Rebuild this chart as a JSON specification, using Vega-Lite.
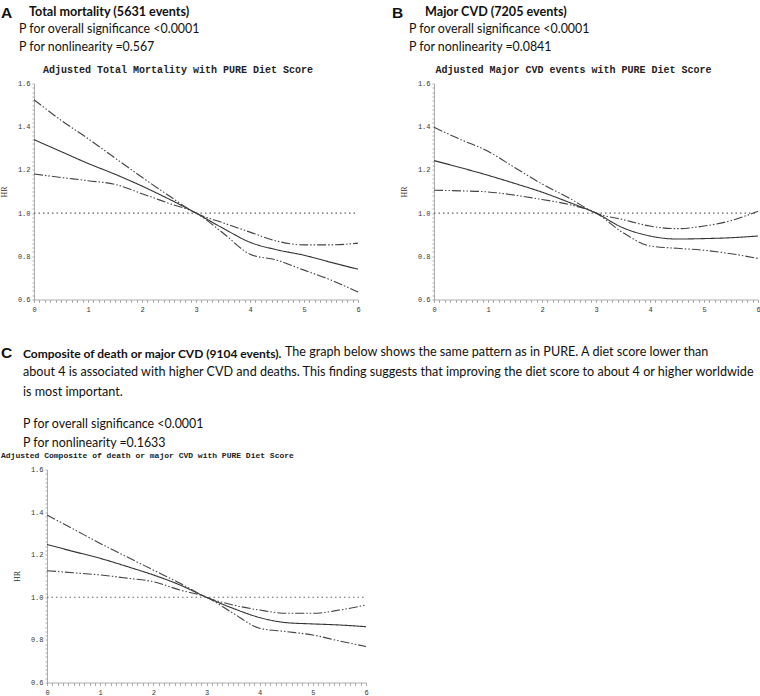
{
  "$schema": "https://vega.github.io/schema/vega-lite/v6.json",
  "padding": {"left": 0, "top": 5.5, "right": 0, "bottom": 0},
  "background": "white",
  "config": {"view": {"stroke": null}, "font": "Lato"},
  "datasets": {
    "A": [
      {"x": 0, "series": "ref", "hr": 1.0}, {"x": 6, "series": "ref", "hr": 1.0},
      {"x": 0, "series": "est", "hr": 1.34}, {"x": 0.5, "series": "est", "hr": 1.285}, {"x": 1, "series": "est", "hr": 1.23}, {"x": 1.5, "series": "est", "hr": 1.18}, {"x": 2, "series": "est", "hr": 1.125}, {"x": 2.5, "series": "est", "hr": 1.065}, {"x": 3, "series": "est", "hr": 1.0}, {"x": 3.5, "series": "est", "hr": 0.93}, {"x": 4, "series": "est", "hr": 0.865}, {"x": 4.5, "series": "est", "hr": 0.83}, {"x": 5, "series": "est", "hr": 0.805}, {"x": 5.5, "series": "est", "hr": 0.772}, {"x": 6, "series": "est", "hr": 0.74},
      {"x": 0, "series": "upper", "hr": 1.525}, {"x": 0.5, "series": "upper", "hr": 1.43}, {"x": 1, "series": "upper", "hr": 1.345}, {"x": 1.5, "series": "upper", "hr": 1.255}, {"x": 2, "series": "upper", "hr": 1.166}, {"x": 2.5, "series": "upper", "hr": 1.08}, {"x": 3, "series": "upper", "hr": 1.0}, {"x": 3.5, "series": "upper", "hr": 0.955}, {"x": 4, "series": "upper", "hr": 0.912}, {"x": 4.5, "series": "upper", "hr": 0.87}, {"x": 5, "series": "upper", "hr": 0.853}, {"x": 5.5, "series": "upper", "hr": 0.853}, {"x": 6, "series": "upper", "hr": 0.861},
      {"x": 0, "series": "lower", "hr": 1.181}, {"x": 0.5, "series": "lower", "hr": 1.165}, {"x": 1, "series": "lower", "hr": 1.15}, {"x": 1.5, "series": "lower", "hr": 1.133}, {"x": 2, "series": "lower", "hr": 1.09}, {"x": 2.5, "series": "lower", "hr": 1.045}, {"x": 3, "series": "lower", "hr": 1.0}, {"x": 3.5, "series": "lower", "hr": 0.908}, {"x": 4, "series": "lower", "hr": 0.81}, {"x": 4.5, "series": "lower", "hr": 0.782}, {"x": 5, "series": "lower", "hr": 0.736}, {"x": 5.5, "series": "lower", "hr": 0.69}, {"x": 6, "series": "lower", "hr": 0.634}
    ],
    "B": [
      {"x": 0, "series": "ref", "hr": 1.0}, {"x": 6, "series": "ref", "hr": 1.0},
      {"x": 0, "series": "est", "hr": 1.243}, {"x": 0.5, "series": "est", "hr": 1.21}, {"x": 1, "series": "est", "hr": 1.175}, {"x": 1.5, "series": "est", "hr": 1.137}, {"x": 2, "series": "est", "hr": 1.097}, {"x": 2.5, "series": "est", "hr": 1.05}, {"x": 3, "series": "est", "hr": 1.0}, {"x": 3.5, "series": "est", "hr": 0.932}, {"x": 4, "series": "est", "hr": 0.894}, {"x": 4.5, "series": "est", "hr": 0.88}, {"x": 5, "series": "est", "hr": 0.882}, {"x": 5.5, "series": "est", "hr": 0.886}, {"x": 6, "series": "est", "hr": 0.894},
      {"x": 0, "series": "upper", "hr": 1.397}, {"x": 0.5, "series": "upper", "hr": 1.34}, {"x": 1, "series": "upper", "hr": 1.286}, {"x": 1.5, "series": "upper", "hr": 1.21}, {"x": 2, "series": "upper", "hr": 1.135}, {"x": 2.5, "series": "upper", "hr": 1.07}, {"x": 3, "series": "upper", "hr": 1.0}, {"x": 3.5, "series": "upper", "hr": 0.97}, {"x": 4, "series": "upper", "hr": 0.94}, {"x": 4.5, "series": "upper", "hr": 0.928}, {"x": 5, "series": "upper", "hr": 0.94}, {"x": 5.5, "series": "upper", "hr": 0.965}, {"x": 6, "series": "upper", "hr": 1.009},
      {"x": 0, "series": "lower", "hr": 1.106}, {"x": 0.5, "series": "lower", "hr": 1.103}, {"x": 1, "series": "lower", "hr": 1.098}, {"x": 1.5, "series": "lower", "hr": 1.083}, {"x": 2, "series": "lower", "hr": 1.063}, {"x": 2.5, "series": "lower", "hr": 1.04}, {"x": 3, "series": "lower", "hr": 1.0}, {"x": 3.5, "series": "lower", "hr": 0.909}, {"x": 4, "series": "lower", "hr": 0.848}, {"x": 4.5, "series": "lower", "hr": 0.837}, {"x": 5, "series": "lower", "hr": 0.828}, {"x": 5.5, "series": "lower", "hr": 0.812}, {"x": 6, "series": "lower", "hr": 0.79}
    ],
    "C": [
      {"x": 0, "series": "ref", "hr": 1.0}, {"x": 6, "series": "ref", "hr": 1.0},
      {"x": 0, "series": "est", "hr": 1.248}, {"x": 0.5, "series": "est", "hr": 1.215}, {"x": 1, "series": "est", "hr": 1.183}, {"x": 1.5, "series": "est", "hr": 1.145}, {"x": 2, "series": "est", "hr": 1.105}, {"x": 2.5, "series": "est", "hr": 1.058}, {"x": 3, "series": "est", "hr": 1.0}, {"x": 3.5, "series": "est", "hr": 0.948}, {"x": 4, "series": "est", "hr": 0.905}, {"x": 4.5, "series": "est", "hr": 0.881}, {"x": 5, "series": "est", "hr": 0.875}, {"x": 5.5, "series": "est", "hr": 0.87}, {"x": 6, "series": "est", "hr": 0.862},
      {"x": 0, "series": "upper", "hr": 1.386}, {"x": 0.5, "series": "upper", "hr": 1.32}, {"x": 1, "series": "upper", "hr": 1.253}, {"x": 1.5, "series": "upper", "hr": 1.19}, {"x": 2, "series": "upper", "hr": 1.128}, {"x": 2.5, "series": "upper", "hr": 1.066}, {"x": 3, "series": "upper", "hr": 1.0}, {"x": 3.5, "series": "upper", "hr": 0.964}, {"x": 4, "series": "upper", "hr": 0.94}, {"x": 4.5, "series": "upper", "hr": 0.925}, {"x": 5, "series": "upper", "hr": 0.925}, {"x": 5.5, "series": "upper", "hr": 0.94}, {"x": 6, "series": "upper", "hr": 0.964},
      {"x": 0, "series": "lower", "hr": 1.125}, {"x": 0.5, "series": "lower", "hr": 1.115}, {"x": 1, "series": "lower", "hr": 1.105}, {"x": 1.5, "series": "lower", "hr": 1.09}, {"x": 2, "series": "lower", "hr": 1.073}, {"x": 2.5, "series": "lower", "hr": 1.034}, {"x": 3, "series": "lower", "hr": 1.0}, {"x": 3.5, "series": "lower", "hr": 0.925}, {"x": 4, "series": "lower", "hr": 0.855}, {"x": 4.5, "series": "lower", "hr": 0.839}, {"x": 5, "series": "lower", "hr": 0.823}, {"x": 5.5, "series": "lower", "hr": 0.795}, {"x": 6, "series": "lower", "hr": 0.769}
    ]
  },
  "spacing": 33,
  "vconcat": [
    {
      "spacing": 30,
      "hconcat": [
        {
          "title": {"text": "A", "anchor": "start", "dx": 0.5, "dy": 16, "font": "Liberation Sans", "fontSize": 15.5, "fontWeight": "bold", "color": "#111", "offset": 0},
          "vconcat": [{
            "title": {"text": "Total mortality (5631 events)", "anchor": "start", "dx": 28.6, "font": "Lato", "fontSize": 12.6, "fontWeight": "bold", "color": "#111", "offset": 5},
            "vconcat": [{
              "title": {"text": ["P for overall significance <0.0001", "P for nonlinearity =0.567"], "anchor": "start", "dx": 18.6, "font": "Lato", "fontSize": 12.4, "fontWeight": "normal", "lineHeight": 18, "offset": 11, "color": "#111"},
              "vconcat": [{
                "width": 324, "height": 216,
                "title": {"text": "Adjusted Total Mortality with PURE Diet Score", "font": "Liberation Mono", "fontSize": 10, "fontWeight": "bold", "color": "#222", "anchor": "middle", "dx": -18, "offset": 5},
                "data": {"name": "A"},
                "mark": {"type": "line", "interpolate": "monotone", "strokeWidth": 1.1},
                "encoding": {
                  "x": {"field": "x", "type": "quantitative", "scale": {"domain": [0, 6], "nice": false, "zero": false},
                    "axis": {"title": null, "values": [0,0.1,0.2,0.3,0.4,0.5,0.6,0.7,0.8,0.9,1,1.1,1.2,1.3,1.4,1.5,1.6,1.7,1.8,1.9,2,2.1,2.2,2.3,2.4,2.5,2.6,2.7,2.8,2.9,3,3.1,3.2,3.3,3.4,3.5,3.6,3.7,3.8,3.9,4,4.1,4.2,4.3,4.4,4.5,4.6,4.7,4.8,4.9,5,5.1,5.2,5.3,5.4,5.5,5.6,5.7,5.8,5.9,6],
                      "labelExpr": "abs(datum.value - round(datum.value)) < 0.001 ? format(datum.value, 'd') : ''",
                      "labelFont": "Liberation Mono", "labelFontSize": 7, "labelColor": "#333", "labelPadding": 3, "labelFlush": false, "labelOverlap": false,
                      "tickSize": 3, "tickColor": "#888", "tickWidth": 0.7, "domainColor": "#999", "domainWidth": 0.8, "grid": false}},
                  "y": {"field": "hr", "type": "quantitative", "scale": {"domain": [0.6, 1.6], "nice": false, "zero": false},
                    "axis": {"title": "HR", "values": [0.6,0.62,0.64,0.66,0.68,0.7,0.72,0.74,0.76,0.78,0.8,0.82,0.84,0.86,0.88,0.9,0.92,0.94,0.96,0.98,1,1.02,1.04,1.06,1.08,1.1,1.12,1.14,1.16,1.18,1.2,1.22,1.24,1.26,1.28,1.3,1.32,1.34,1.36,1.38,1.4,1.42,1.44,1.46,1.48,1.5,1.52,1.54,1.56,1.58,1.6],
                      "labelExpr": "abs(datum.value * 5 - round(datum.value * 5)) < 0.001 ? format(datum.value, '.1f') : ''",
                      "labelFont": "Liberation Mono", "labelFontSize": 7, "labelColor": "#333", "labelPadding": 2, "labelOverlap": false, "labelFlush": false,
                      "tickSize": 2, "tickColor": "#888", "tickWidth": 0.7, "domainColor": "#999", "domainWidth": 0.8, "grid": false,
                      "titleFont": "Liberation Serif", "titleFontSize": 8, "titleFontWeight": "normal", "titleColor": "#333", "titlePadding": 9}},
                  "strokeDash": {"field": "series", "type": "nominal", "scale": {"domain": ["ref", "est", "upper", "lower"], "range": [[1.5, 3], [1, 0], [9, 2, 1.5, 2, 1.5, 2], [9, 2, 1.5, 2, 1.5, 2]]}, "legend": null},
                  "color": {"field": "series", "type": "nominal", "scale": {"domain": ["ref", "est", "upper", "lower"], "range": ["#666", "#333", "#444", "#444"]}, "legend": null}
                }
              }]
            }]
          }]
        },
        {
          "title": {"text": "B", "anchor": "start", "dx": -8.4, "dy": 16, "font": "Liberation Sans", "fontSize": 15.5, "fontWeight": "bold", "color": "#111", "offset": 0},
          "vconcat": [{
            "title": {"text": "Major CVD (7205 events)", "anchor": "start", "dx": 24.6, "font": "Lato", "fontSize": 12.6, "fontWeight": "bold", "color": "#111", "offset": 5},
            "vconcat": [{
              "title": {"text": ["P for overall significance <0.0001", "P for nonlinearity =0.0841"], "anchor": "start", "dx": 8.6, "font": "Lato", "fontSize": 12.4, "fontWeight": "normal", "lineHeight": 18, "offset": 11, "color": "#111"},
              "vconcat": [{
                "width": 324, "height": 216,
                "title": {"text": "Adjusted Major CVD events with PURE Diet Score", "font": "Liberation Mono", "fontSize": 10, "fontWeight": "bold", "color": "#222", "anchor": "middle", "dx": -22.5, "offset": 5},
                "data": {"name": "B"},
                "mark": {"type": "line", "interpolate": "monotone", "strokeWidth": 1.1},
                "encoding": {
                  "x": {"field": "x", "type": "quantitative", "scale": {"domain": [0, 6], "nice": false, "zero": false},
                    "axis": {"title": null, "values": [0,0.1,0.2,0.3,0.4,0.5,0.6,0.7,0.8,0.9,1,1.1,1.2,1.3,1.4,1.5,1.6,1.7,1.8,1.9,2,2.1,2.2,2.3,2.4,2.5,2.6,2.7,2.8,2.9,3,3.1,3.2,3.3,3.4,3.5,3.6,3.7,3.8,3.9,4,4.1,4.2,4.3,4.4,4.5,4.6,4.7,4.8,4.9,5,5.1,5.2,5.3,5.4,5.5,5.6,5.7,5.8,5.9,6],
                      "labelExpr": "abs(datum.value - round(datum.value)) < 0.001 ? format(datum.value, 'd') : ''",
                      "labelFont": "Liberation Mono", "labelFontSize": 7, "labelColor": "#333", "labelPadding": 3, "labelFlush": false, "labelOverlap": false,
                      "tickSize": 3, "tickColor": "#888", "tickWidth": 0.7, "domainColor": "#999", "domainWidth": 0.8, "grid": false}},
                  "y": {"field": "hr", "type": "quantitative", "scale": {"domain": [0.6, 1.6], "nice": false, "zero": false},
                    "axis": {"title": "HR", "values": [0.6,0.62,0.64,0.66,0.68,0.7,0.72,0.74,0.76,0.78,0.8,0.82,0.84,0.86,0.88,0.9,0.92,0.94,0.96,0.98,1,1.02,1.04,1.06,1.08,1.1,1.12,1.14,1.16,1.18,1.2,1.22,1.24,1.26,1.28,1.3,1.32,1.34,1.36,1.38,1.4,1.42,1.44,1.46,1.48,1.5,1.52,1.54,1.56,1.58,1.6],
                      "labelExpr": "abs(datum.value * 5 - round(datum.value * 5)) < 0.001 ? format(datum.value, '.1f') : ''",
                      "labelFont": "Liberation Mono", "labelFontSize": 7, "labelColor": "#333", "labelPadding": 2, "labelOverlap": false, "labelFlush": false,
                      "tickSize": 2, "tickColor": "#888", "tickWidth": 0.7, "domainColor": "#999", "domainWidth": 0.8, "grid": false,
                      "titleFont": "Liberation Serif", "titleFontSize": 8, "titleFontWeight": "normal", "titleColor": "#333", "titlePadding": 9}},
                  "strokeDash": {"field": "series", "type": "nominal", "scale": {"domain": ["ref", "est", "upper", "lower"], "range": [[1.5, 3], [1, 0], [9, 2, 1.5, 2, 1.5, 2], [9, 2, 1.5, 2, 1.5, 2]]}, "legend": null},
                  "color": {"field": "series", "type": "nominal", "scale": {"domain": ["ref", "est", "upper", "lower"], "range": ["#666", "#333", "#444", "#444"]}, "legend": null}
                }
              }]
            }]
          }]
        }
      ]
    },
    {
      "title": {"text": "C", "anchor": "start", "dx": 0, "dy": 16, "font": "Liberation Sans", "fontSize": 15.5, "fontWeight": "bold", "color": "#111", "offset": 0},
      "vconcat": [{
        "title": {"text": "Composite of death or major CVD (9104 events).", "anchor": "start", "dx": 22, "dy": 14.7, "font": "Lato", "fontSize": 12.0, "fontWeight": "bold", "color": "#111", "offset": 0},
        "vconcat": [{
          "title": {"text": "The graph below shows the same pattern as in PURE. A diet score lower than", "anchor": "start", "dx": 284, "font": "Lato", "fontSize": 12.6, "fontWeight": "normal", "color": "#111", "offset": 7},
          "vconcat": [{
            "title": {"text": ["about 4 is associated with higher CVD and deaths. This finding suggests that improving the diet score to about 4 or higher worldwide", "is most important."], "subtitle": ["P for overall significance <0.0001", "P for nonlinearity =0.1633"], "anchor": "start", "dx": 22, "font": "Lato", "fontSize": 12.6, "fontWeight": "normal", "lineHeight": 20, "color": "#111", "subtitleFont": "Lato", "subtitleFontSize": 12.4, "subtitleColor": "#111", "subtitleLineHeight": 19, "subtitlePadding": 20, "offset": 2},
            "vconcat": [{
              "width": 332, "height": 213,
              "title": {"text": "Adjusted Composite of death or major CVD with PURE Diet Score", "font": "Liberation Mono", "fontSize": 8, "fontWeight": "bold", "color": "#222", "anchor": "start", "dx": -12.4, "offset": 6},
              "data": {"name": "C"},
              "mark": {"type": "line", "interpolate": "monotone", "strokeWidth": 1.1},
              "encoding": {
                "x": {"field": "x", "type": "quantitative", "scale": {"domain": [0, 6], "range": [13, 332], "nice": false, "zero": false},
                  "axis": {"title": null, "values": [0,0.1,0.2,0.3,0.4,0.5,0.6,0.7,0.8,0.9,1,1.1,1.2,1.3,1.4,1.5,1.6,1.7,1.8,1.9,2,2.1,2.2,2.3,2.4,2.5,2.6,2.7,2.8,2.9,3,3.1,3.2,3.3,3.4,3.5,3.6,3.7,3.8,3.9,4,4.1,4.2,4.3,4.4,4.5,4.6,4.7,4.8,4.9,5,5.1,5.2,5.3,5.4,5.5,5.6,5.7,5.8,5.9,6],
                    "labelExpr": "abs(datum.value - round(datum.value)) < 0.001 ? format(datum.value, 'd') : ''",
                    "labelFont": "Liberation Mono", "labelFontSize": 7, "labelColor": "#333", "labelPadding": 3, "labelFlush": false, "labelOverlap": false,
                    "tickSize": 3, "tickColor": "#888", "tickWidth": 0.7, "domainColor": "#999", "domainWidth": 0.8, "grid": false}},
                "y": {"field": "hr", "type": "quantitative", "scale": {"domain": [0.6, 1.6], "nice": false, "zero": false},
                  "axis": {"title": "HR", "offset": -13, "values": [0.6,0.62,0.64,0.66,0.68,0.7,0.72,0.74,0.76,0.78,0.8,0.82,0.84,0.86,0.88,0.9,0.92,0.94,0.96,0.98,1,1.02,1.04,1.06,1.08,1.1,1.12,1.14,1.16,1.18,1.2,1.22,1.24,1.26,1.28,1.3,1.32,1.34,1.36,1.38,1.4,1.42,1.44,1.46,1.48,1.5,1.52,1.54,1.56,1.58,1.6],
                    "labelExpr": "abs(datum.value * 5 - round(datum.value * 5)) < 0.001 ? format(datum.value, '.1f') : ''",
                    "labelFont": "Liberation Mono", "labelFontSize": 7, "labelColor": "#333", "labelPadding": 2, "labelOverlap": false, "labelFlush": false,
                    "tickSize": 2, "tickColor": "#888", "tickWidth": 0.7, "domainColor": "#999", "domainWidth": 0.8, "grid": false,
                    "titleFont": "Liberation Serif", "titleFontSize": 8, "titleFontWeight": "normal", "titleColor": "#333", "titlePadding": 9}},
                "strokeDash": {"field": "series", "type": "nominal", "scale": {"domain": ["ref", "est", "upper", "lower"], "range": [[1.5, 3], [1, 0], [9, 2, 1.5, 2, 1.5, 2], [9, 2, 1.5, 2, 1.5, 2]]}, "legend": null},
                "color": {"field": "series", "type": "nominal", "scale": {"domain": ["ref", "est", "upper", "lower"], "range": ["#666", "#333", "#444", "#444"]}, "legend": null}
              }
            }]
          }]
        }]
      }]
    }
  ]
}
